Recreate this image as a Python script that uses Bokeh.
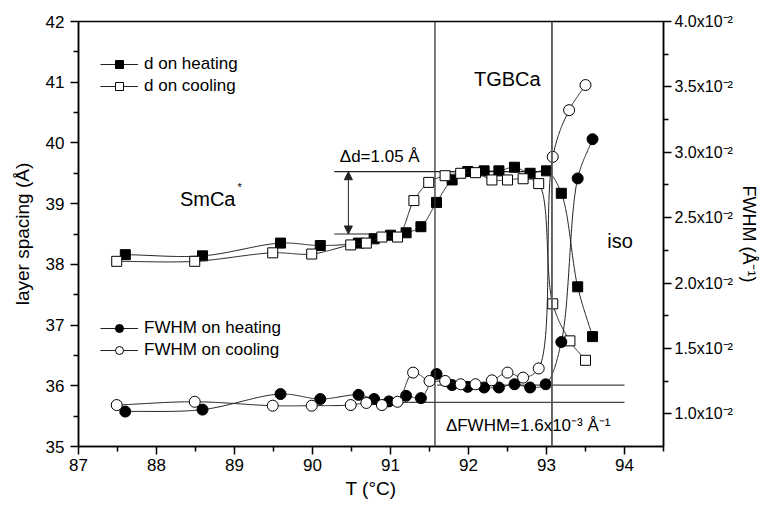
import numpy as np
from bokeh.plotting import figure
from bokeh.models import (Range1d, LinearAxis, FixedTicker, Span, Label, Arrow,
                          NormalHead, Legend, LegendItem, CustomJSTickFormatter)
from bokeh.embed import file_html
from bokeh.resources import INLINE

# ---------------- data ----------------
T_d_heat = [87.60, 88.59, 89.59, 90.10, 90.59, 90.79, 91.00, 91.20, 91.39, 91.59,
            91.79, 91.99, 92.20, 92.39, 92.59, 92.79, 93.00, 93.19, 93.40, 93.59]
d_heat = [38.16, 38.14, 38.35, 38.31, 38.35, 38.42, 38.48, 38.52, 38.62, 39.02,
          39.39, 39.53, 39.54, 39.54, 39.60, 39.50, 39.54, 39.17, 37.63, 36.81]

T_d_cool = [87.49, 88.49, 89.49, 89.99, 90.49, 90.69, 90.89, 91.09, 91.30, 91.49,
            91.70, 91.90, 92.09, 92.30, 92.50, 92.70, 92.90, 93.08, 93.30, 93.50]
d_cool = [38.05, 38.05, 38.19, 38.17, 38.32, 38.35, 38.45, 38.45, 39.05, 39.35,
          39.46, 39.50, 39.51, 39.39, 39.39, 39.41, 39.33, 37.35, 36.74, 36.42]

T_f_heat = [87.60, 88.59, 89.59, 90.10, 90.59, 90.79, 90.98, 91.20, 91.39, 91.59,
            91.79, 91.99, 92.20, 92.39, 92.59, 92.79, 92.99, 93.19, 93.40, 93.59]
f_heat = [0.01017, 0.01032, 0.01151, 0.01113, 0.01145, 0.01113, 0.01095, 0.01138, 0.01120, 0.01305,
          0.01220, 0.01206, 0.01201, 0.01201, 0.01226, 0.01201, 0.01226, 0.01549, 0.02800, 0.03100]

T_f_cool = [87.49, 88.49, 89.49, 89.99, 90.49, 90.69, 90.89, 91.09, 91.29, 91.50,
            91.70, 91.90, 92.09, 92.30, 92.50, 92.70, 92.90, 93.08, 93.29, 93.50]
f_cool = [0.01067, 0.01092, 0.01062, 0.01062, 0.01067, 0.01083, 0.01067, 0.01092, 0.01315, 0.01251,
          0.01251, 0.01226, 0.01226, 0.01256, 0.01315, 0.01277, 0.01347, 0.02965, 0.03322, 0.03514]

x_ticks = [87, 88, 89, 90, 91, 92, 93, 94]
d_ticks = [35, 36, 37, 38, 39, 40, 41, 42]
f_ticks = [0.010, 0.015, 0.020, 0.025, 0.030, 0.035, 0.040]

# phase boundaries and annotation levels
T_boundaries = [91.57, 93.07]
d_levels = [39.526, 38.50]
f_levels = [0.01219, 0.01088]

X_RANGE = (87, 94.5)
D_RANGE = (35, 42)
F_RANGE = (0.0075, 0.04)

FONT = "Liberation Sans"


def smooth_line(xs, ys, yr, n=40):
    """Smooth connecting curve (centripetal Catmull-Rom) through the points, in screen-like space."""
    x = np.asarray(xs, float)
    y = np.asarray(ys, float)
    X = (x - X_RANGE[0]) / (X_RANGE[1] - X_RANGE[0]) * 587.0
    Y = (y - yr[0]) / (yr[1] - yr[0]) * 430.0
    P = np.column_stack([X, Y])
    P = np.vstack([2 * P[0] - P[1], P, 2 * P[-1] - P[-2]])
    out = [P[1:2]]
    for i in range(1, len(P) - 2):
        P0, P1, P2, P3 = P[i - 1], P[i], P[i + 1], P[i + 2]
        t0 = 0.0
        t1 = t0 + np.linalg.norm(P1 - P0) ** 0.5
        t2 = t1 + np.linalg.norm(P2 - P1) ** 0.5
        t3 = t2 + np.linalg.norm(P3 - P2) ** 0.5
        t = np.linspace(t1, t2, n)[1:, None]
        A1 = (t1 - t) / (t1 - t0) * P0 + (t - t0) / (t1 - t0) * P1
        A2 = (t2 - t) / (t2 - t1) * P1 + (t - t1) / (t2 - t1) * P2
        A3 = (t3 - t) / (t3 - t2) * P2 + (t - t2) / (t3 - t2) * P3
        B1 = (t2 - t) / (t2 - t0) * A1 + (t - t0) / (t2 - t0) * A2
        B2 = (t3 - t) / (t3 - t1) * A2 + (t - t1) / (t3 - t1) * A3
        C = (t2 - t) / (t2 - t1) * B1 + (t - t1) / (t2 - t1) * B2
        out.append(C)
    C = np.vstack(out)
    return (X_RANGE[0] + C[:, 0] / 587.0 * (X_RANGE[1] - X_RANGE[0]),
            yr[0] + C[:, 1] / 430.0 * (yr[1] - yr[0]))


p = figure(width=761, height=501, output_backend="svg", toolbar_location=None,
           x_range=Range1d(*X_RANGE), y_range=Range1d(*D_RANGE),
           min_border_left=78, min_border_right=96, min_border_top=21, min_border_bottom=54)
p.extra_y_ranges = {"fwhm": Range1d(*F_RANGE)}
p.xgrid.visible = False
p.ygrid.visible = False
p.outline_line_color = "black"
p.outline_line_width = 1.5
p.background_fill_color = "white"
p.border_fill_color = "white"


def style_axis(ax):
    ax.axis_line_color = "black"
    ax.axis_line_width = 1.5
    ax.major_tick_line_color = "black"
    ax.minor_tick_line_color = "black"
    ax.major_tick_line_width = 1.5
    ax.minor_tick_line_width = 1.5
    ax.major_tick_in = 0
    ax.major_tick_out = 8
    ax.minor_tick_in = 0
    ax.minor_tick_out = 5
    ax.major_label_text_font = FONT
    ax.major_label_text_font_size = "17px"
    ax.major_label_text_color = "black"
    ax.axis_label_text_font = FONT
    ax.axis_label_text_font_size = "19px"
    ax.axis_label_text_font_style = "normal"
    ax.axis_label_text_color = "black"


xa = p.xaxis[0]
xa.ticker = FixedTicker(ticks=x_ticks, minor_ticks=[t + 0.5 for t in x_ticks])
xa.axis_label = "T (°C)"
style_axis(xa)
xa.major_label_standoff = 4
xa.axis_label_standoff = 4

ya = p.yaxis[0]
ya.ticker = FixedTicker(ticks=d_ticks, minor_ticks=[t + 0.5 for t in d_ticks[:-1]])
ya.axis_label = "layer spacing (Å)"
style_axis(ya)
ya.major_label_standoff = 6
ya.axis_label_standoff = 10

ra = LinearAxis(y_range_name="fwhm", axis_label="FWHM (Å⁻¹)")
ra.ticker = FixedTicker(ticks=f_ticks, minor_ticks=[t + 0.0025 for t in f_ticks[:-1]])
ra.formatter = CustomJSTickFormatter(code="return (tick*100).toFixed(1) + 'x10\u207B\u00B2';")
style_axis(ra)
ra.major_label_text_font_size = "16px"
ra.axis_label_text_font_size = "18px"
ra.major_label_standoff = 3
ra.axis_label_standoff = 3
p.add_layout(ra, "right")

# phase boundary lines
for Tb, col, w in zip(T_boundaries, ["#333333", "#555555"], [1.3, 1.8]):
    p.add_layout(Span(location=Tb, dimension="height", line_color=col, line_width=w))

# Δd marker lines and arrow
p.line([90.28, T_boundaries[1]], [d_levels[0], d_levels[0]], line_color="#222222", line_width=1.2)
p.line([90.28, 91.10], [d_levels[1], d_levels[1]], line_color="#222222", line_width=1.2)
p.add_layout(Arrow(x_start=90.46, y_start=d_levels[1], x_end=90.46, y_end=d_levels[0],
                   start=NormalHead(size=8, fill_color="#222222", line_color="#222222"),
                   end=NormalHead(size=8, fill_color="#222222", line_color="#222222"),
                   line_color="#222222", line_width=1.0))

# ΔFWHM marker lines
p.line([91.60, 94.0], [f_levels[0], f_levels[0]], y_range_name="fwhm", line_color="#444444", line_width=1.3)
p.line([91.00, 94.0], [f_levels[1], f_levels[1]], y_range_name="fwhm", line_color="#444444", line_width=1.3)

# series
LC = "#222222"
sx, sy = smooth_line(T_d_heat, d_heat, D_RANGE)
l1 = p.line(sx, sy, line_color=LC, line_width=1)
m1 = p.scatter(T_d_heat, d_heat, marker="square", size=10, fill_color="black", line_color="black")

sx, sy = smooth_line(T_d_cool, d_cool, D_RANGE)
l2 = p.line(sx, sy, line_color=LC, line_width=1)
m2 = p.scatter(T_d_cool, d_cool, marker="square", size=10, fill_color="white", line_color="black", line_width=1)

sx, sy = smooth_line(T_f_heat, f_heat, F_RANGE)
l3 = p.line(sx, sy, line_color=LC, line_width=1, y_range_name="fwhm")
m3 = p.scatter(T_f_heat, f_heat, marker="circle", size=11, fill_color="black", line_color="black",
               y_range_name="fwhm")

sx, sy = smooth_line(T_f_cool, f_cool, F_RANGE)
l4 = p.line(sx, sy, line_color=LC, line_width=1, y_range_name="fwhm")
m4 = p.scatter(T_f_cool, f_cool, marker="circle", size=11, fill_color="white", line_color="black",
               line_width=1, y_range_name="fwhm")


def make_legend(items, loc):
    lg = Legend(items=items, location=loc, orientation="vertical",
                background_fill_alpha=0, border_line_alpha=0,
                glyph_width=38, glyph_height=20, label_height=20,
                label_standoff=6, spacing=2, padding=0, margin=0,
                label_text_font=FONT, label_text_font_size="17px", label_text_color="black")
    p.add_layout(lg)
    return lg


make_legend([LegendItem(label="d on heating", renderers=[l1, m1]),
             LegendItem(label="d on cooling", renderers=[l2, m2])], (22, 350))
make_legend([LegendItem(label="FWHM on heating", renderers=[l3, m3]),
             LegendItem(label="FWHM on cooling", renderers=[l4, m4])], (22, 86))


def txt(x, y, s, size="19px"):
    p.add_layout(Label(x=x, y=y, text=s, text_font=FONT, text_font_size=size, text_color="black",
                       text_baseline="middle", text_align="left"))


txt(88.30, 39.07, "SmCa", size="20px")
txt(89.04, 39.27, "*", size="11px")
txt(92.07, 41.06, "TGBCa", size="20px")
txt(93.78, 38.39, "iso", size="20px")
txt(90.35, 39.77, "Δd=1.05 Å", size="17px")
txt(91.71, 35.34, "ΔFWHM=1.6x10⁻³ Å⁻¹", size="17px")

open("out.html", "w").write(file_html(p, INLINE))
